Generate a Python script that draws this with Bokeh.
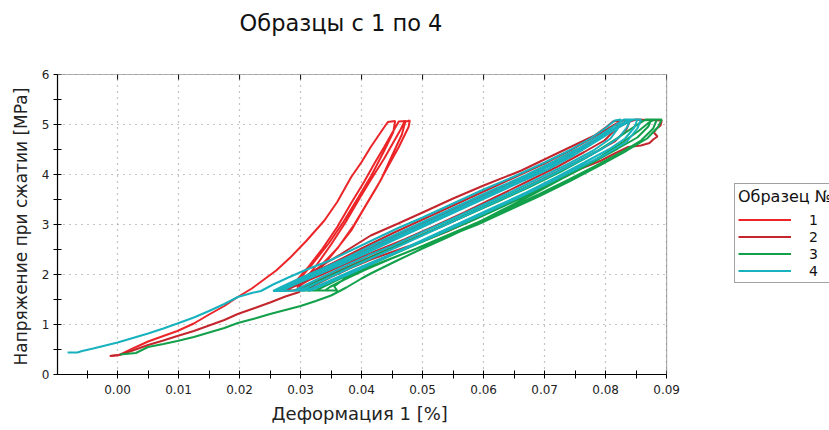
from bokeh.plotting import figure
from bokeh.models import (Range1d, FixedTicker, PrintfTickFormatter,
                          Legend, LegendItem, Title, Label, BoxAnnotation)
from bokeh.embed import file_html
from bokeh.resources import INLINE

# --- data: deformation [%] vs compressive stress [MPa], one path per specimen ---
s1_x = [-0.0013, 0.0003, 0.0025, 0.0050, 0.0075, 0.0098, 0.0125, 0.0150, 0.0175, 0.0197, 0.0220, 0.0240, 0.0260,
        0.0284, 0.0310, 0.0339, 0.0360, 0.0383, 0.0400, 0.0415, 0.0430, 0.0443, 0.0455,
        0.0452, 0.0436, 0.0416, 0.0395, 0.0370, 0.0346, 0.0320, 0.0296, 0.0280,
        0.0292, 0.0312, 0.0336, 0.0360, 0.0384, 0.0404, 0.0420, 0.0437, 0.0451, 0.0461, 0.0472,
        0.0466, 0.0450, 0.0432, 0.0410, 0.0388, 0.0362, 0.0338, 0.0312, 0.0294,
        0.0306, 0.0328, 0.0350, 0.0374, 0.0398, 0.0418, 0.0437, 0.0451, 0.0464, 0.0470, 0.0479,
        0.0477, 0.0461, 0.0446, 0.0425, 0.0403, 0.0383, 0.0360, 0.0339, 0.0320, 0.0302]
s1_y = [0.37, 0.39, 0.52, 0.66, 0.77, 0.87, 1.02, 1.20, 1.37, 1.55, 1.72, 1.90, 2.08,
        2.35, 2.68, 3.08, 3.45, 3.95, 4.25, 4.55, 4.82, 5.05, 5.07,
        4.85, 4.45, 3.98, 3.55, 3.05, 2.62, 2.22, 1.88, 1.74,
        1.86, 2.14, 2.52, 2.95, 3.45, 3.85, 4.20, 4.55, 4.85, 5.06, 5.07,
        4.80, 4.38, 3.90, 3.45, 3.00, 2.55, 2.20, 1.88, 1.74,
        1.88, 2.22, 2.60, 3.05, 3.55, 3.95, 4.32, 4.62, 4.90, 5.05, 5.08,
        4.95, 4.55, 4.22, 3.75, 3.30, 2.88, 2.52, 2.25, 2.00, 1.80]

s2_x = [-0.0012, 0.0002, 0.0025, 0.0050, 0.0075, 0.0098, 0.0125, 0.0150, 0.0175, 0.0197, 0.0225, 0.0250, 0.0275, 0.0298,
        0.0300, 0.0312, 0.0335, 0.0365, 0.0415, 0.0460, 0.0500, 0.0550, 0.0600, 0.0662, 0.0720, 0.0782, 0.0800, 0.0812, 0.0822,
        0.0816, 0.0798, 0.0765, 0.0720, 0.0670, 0.0620, 0.0570, 0.0520, 0.0470, 0.0420, 0.0375, 0.0335, 0.0300, 0.0278, 0.0265,
        0.0285, 0.0315, 0.0355, 0.0400, 0.0450, 0.0500, 0.0550, 0.0600, 0.0650, 0.0700, 0.0745, 0.0785, 0.0812, 0.0828, 0.0840,
        0.0834, 0.0815, 0.0780, 0.0735, 0.0685, 0.0635, 0.0585, 0.0535, 0.0485, 0.0435, 0.0390, 0.0350, 0.0318, 0.0295, 0.0288, 0.0275,
        0.0295, 0.0330, 0.0372, 0.0418, 0.0468, 0.0518, 0.0568, 0.0618, 0.0668, 0.0718, 0.0765, 0.0805, 0.0835, 0.0850, 0.0892,
        0.0890, 0.0884, 0.0879, 0.0885, 0.0878, 0.0872, 0.0858, 0.0837, 0.0815, 0.0793, 0.0760, 0.0725, 0.0700, 0.0662,
        0.0620, 0.0580, 0.0540, 0.0490, 0.0450, 0.0415, 0.0380, 0.0350, 0.0325, 0.0310]
s2_y = [0.37, 0.39, 0.48, 0.59, 0.68, 0.77, 0.87, 0.98, 1.09, 1.21, 1.33, 1.44, 1.56, 1.65,
        1.82, 2.00, 2.18, 2.40, 2.78, 3.02, 3.24, 3.52, 3.78, 4.08, 4.42, 4.78, 4.94, 5.06, 5.08,
        4.90, 4.68, 4.45, 4.15, 3.85, 3.55, 3.25, 2.97, 2.70, 2.45, 2.22, 2.00, 1.82, 1.70, 1.68,
        1.82, 2.00, 2.24, 2.52, 2.82, 3.10, 3.38, 3.66, 3.94, 4.22, 4.50, 4.78, 4.98, 5.08, 5.08,
        4.90, 4.66, 4.42, 4.14, 3.84, 3.54, 3.26, 2.98, 2.72, 2.46, 2.22, 2.00, 1.82, 1.70, 1.68, 1.68,
        1.84, 2.04, 2.28, 2.55, 2.84, 3.12, 3.40, 3.68, 3.96, 4.26, 4.56, 4.84, 5.04, 5.10, 5.08,
        4.98, 4.92, 4.84, 4.76, 4.70, 4.63, 4.58, 4.55, 4.42, 4.28, 4.12, 3.92, 3.78, 3.55,
        3.32, 3.08, 2.86, 2.62, 2.45, 2.30, 2.12, 1.95, 1.80, 1.70]

s3_x = [0.0004, 0.0030, 0.0050, 0.0075, 0.0098, 0.0125, 0.0150, 0.0175, 0.0197, 0.0225, 0.0250, 0.0275, 0.0300, 0.0325,
        0.0350, 0.0375, 0.0400, 0.0415, 0.0455, 0.0498, 0.0540, 0.0580, 0.0629, 0.0680, 0.0730, 0.0780, 0.0825, 0.0855,
        0.0872, 0.0880, 0.0892,
        0.0886, 0.0868, 0.0835, 0.0790, 0.0740, 0.0690, 0.0640, 0.0590, 0.0540, 0.0490, 0.0440, 0.0400, 0.0370, 0.0355,
        0.0360, 0.0300,
        0.0318, 0.0350, 0.0390, 0.0430, 0.0475, 0.0525, 0.0575, 0.0625, 0.0675, 0.0725, 0.0770, 0.0810, 0.0840, 0.0862, 0.0875,
        0.0870, 0.0852, 0.0820, 0.0780, 0.0735, 0.0685, 0.0635, 0.0585, 0.0535, 0.0485, 0.0440, 0.0400, 0.0365, 0.0338,
        0.0325, 0.0305,
        0.0325, 0.0360, 0.0400, 0.0445, 0.0490, 0.0540, 0.0590, 0.0640, 0.0690, 0.0740, 0.0785, 0.0822, 0.0850, 0.0866, 0.0884,
        0.0878, 0.0858, 0.0825, 0.0785, 0.0740, 0.0690, 0.0640, 0.0590, 0.0540, 0.0490, 0.0445, 0.0405, 0.0372, 0.0348, 0.0340]
s3_y = [0.40, 0.43, 0.55, 0.61, 0.67, 0.75, 0.84, 0.93, 1.03, 1.12, 1.21, 1.29, 1.37, 1.47,
        1.58, 1.74, 1.92, 2.02, 2.26, 2.51, 2.74, 2.97, 3.28, 3.60, 3.93, 4.27, 4.62, 4.88,
        5.05, 5.10, 5.10,
        4.95, 4.72, 4.48, 4.18, 3.86, 3.56, 3.28, 3.00, 2.76, 2.52, 2.28, 2.08, 1.90, 1.76,
        1.68, 1.68,
        1.80, 1.98, 2.20, 2.42, 2.66, 2.93, 3.20, 3.47, 3.75, 4.05, 4.35, 4.65, 4.90, 5.08, 5.10,
        4.96, 4.74, 4.52, 4.25, 3.96, 3.66, 3.38, 3.10, 2.84, 2.58, 2.34, 2.12, 1.92, 1.76,
        1.68, 1.68,
        1.82, 2.02, 2.24, 2.50, 2.74, 3.02, 3.30, 3.58, 3.86, 4.16, 4.46, 4.75, 4.98, 5.10, 5.10,
        4.92, 4.68, 4.44, 4.18, 3.90, 3.60, 3.32, 3.04, 2.78, 2.52, 2.30, 2.09, 1.90, 1.75, 1.68]

s4_x = [-0.0082, -0.0066, -0.0058, -0.0040, -0.0020, 0.0000, 0.0025, 0.0050, 0.0075, 0.0098, 0.0125, 0.0150, 0.0175,
        0.0197, 0.0220, 0.0235,
        0.0255, 0.0280, 0.0310, 0.0350, 0.0415, 0.0460, 0.0500, 0.0550, 0.0600, 0.0650, 0.0700, 0.0740, 0.0775, 0.0800,
        0.0815, 0.0825,
        0.0822, 0.0808, 0.0780, 0.0740, 0.0700, 0.0650, 0.0600, 0.0550, 0.0500, 0.0450, 0.0415, 0.0370, 0.0330, 0.0300,
        0.0290, 0.0255,
        0.0270, 0.0300, 0.0340, 0.0380, 0.0420, 0.0470, 0.0520, 0.0570, 0.0620, 0.0670, 0.0715, 0.0755, 0.0790, 0.0815,
        0.0830, 0.0840,
        0.0836, 0.0822, 0.0795, 0.0755, 0.0710, 0.0660, 0.0610, 0.0560, 0.0510, 0.0460, 0.0415, 0.0375, 0.0338, 0.0310,
        0.0298, 0.0262,
        0.0280, 0.0310, 0.0350, 0.0395, 0.0440, 0.0490, 0.0540, 0.0590, 0.0640, 0.0690, 0.0735, 0.0775, 0.0808, 0.0832,
        0.0842, 0.0852,
        0.0847, 0.0832, 0.0805, 0.0765, 0.0720, 0.0670, 0.0620, 0.0570, 0.0520, 0.0470, 0.0420, 0.0380, 0.0345, 0.0318,
        0.0305, 0.0268,
        0.0290, 0.0325, 0.0365, 0.0410, 0.0455, 0.0505, 0.0555, 0.0605, 0.0655, 0.0705, 0.0750, 0.0790, 0.0822, 0.0845,
        0.0858,
        0.0852, 0.0835, 0.0800, 0.0760, 0.0715, 0.0665, 0.0615, 0.0565, 0.0515, 0.0465, 0.0420, 0.0380, 0.0345, 0.0320,
        0.0312]
s4_y = [0.44, 0.44, 0.47, 0.52, 0.58, 0.64, 0.73, 0.82, 0.92, 1.02, 1.14, 1.27, 1.41,
        1.55, 1.63, 1.67,
        1.80, 1.94, 2.10, 2.29, 2.67, 2.93, 3.14, 3.42, 3.70, 3.96, 4.24, 4.48, 4.72, 4.93,
        5.08, 5.10,
        4.95, 4.72, 4.48, 4.22, 3.98, 3.68, 3.40, 3.12, 2.85, 2.57, 2.40, 2.15, 1.92, 1.74,
        1.68, 1.67,
        1.76, 1.93, 2.14, 2.36, 2.60, 2.88, 3.16, 3.44, 3.72, 3.99, 4.26, 4.52, 4.78, 4.98,
        5.10, 5.10,
        4.96, 4.74, 4.52, 4.26, 3.98, 3.68, 3.40, 3.12, 2.84, 2.56, 2.32, 2.10, 1.89, 1.74,
        1.68, 1.67,
        1.78, 1.94, 2.15, 2.40, 2.66, 2.94, 3.22, 3.50, 3.78, 4.06, 4.34, 4.62, 4.88, 5.06,
        5.10, 5.10,
        4.94, 4.72, 4.50, 4.24, 3.95, 3.64, 3.36, 3.08, 2.80, 2.52, 2.26, 2.05, 1.86, 1.72,
        1.68, 1.67,
        1.80, 1.98, 2.19, 2.44, 2.70, 2.98, 3.26, 3.54, 3.82, 4.10, 4.40, 4.70, 4.95, 5.10,
        5.10,
        4.92, 4.66, 4.40, 4.16, 3.88, 3.58, 3.30, 3.02, 2.75, 2.48, 2.23, 2.01, 1.83, 1.70,
        1.67]

specimen_labels = ["1", "2", "3", "4"]
specimen_colors = ["#ec2529", "#c3272d", "#12a04a", "#17b2be"]

x_ticks = [0.00, 0.01, 0.02, 0.03, 0.04, 0.05, 0.06, 0.07, 0.08, 0.09]
x_minor = [-0.005, 0.005, 0.015, 0.025, 0.035, 0.045, 0.055, 0.065, 0.075, 0.085]
y_ticks = [0, 1, 2, 3, 4, 5, 6]
y_minor = [0.5, 1.5, 2.5, 3.5, 4.5, 5.5]

# chart area spans X_MIN..X_MAX and 0..Y_MAX; the canvas continues above and to the
# right of it (title and legend live there)
X_MIN, X_MAX, Y_MAX = -0.00985, 0.09, 6
X_CANVAS, Y_CANVAS = 0.1167, 7.48

FONT = "DejaVu Sans"

p = figure(width=829, height=430, output_backend="svg", toolbar_location=None,
           x_range=Range1d(X_MIN, X_CANVAS), y_range=Range1d(0, Y_CANVAS),
           min_border_left=57, min_border_right=0, min_border_top=0, min_border_bottom=56)
p.background_fill_color = "white"
p.border_fill_color = "white"
p.outline_line_color = None

# bottom axis
xa = p.xaxis[0]
xa.ticker = FixedTicker(ticks=x_ticks, minor_ticks=x_minor)
xa.formatter = PrintfTickFormatter(format="%.2f")
xa.bounds = (X_MIN, X_MAX)
# left axis
ya = p.yaxis[0]
ya.ticker = FixedTicker(ticks=y_ticks, minor_ticks=y_minor)
ya.bounds = (0, Y_MAX)

for ax in (xa, ya):
    ax.axis_line_color = "black"
    ax.axis_line_width = 1.2
    ax.major_tick_line_color = "black"
    ax.minor_tick_line_color = "black"
    ax.major_tick_in = 4
    ax.major_tick_out = 4
    ax.minor_tick_in = 4
    ax.minor_tick_out = 4
    ax.major_label_text_font = FONT
    ax.major_label_text_font_size = "12px"
    ax.major_label_text_color = "#222222"
xa.major_label_standoff = 6
ya.major_label_standoff = 4

# axis titles, placed along the chart area rather than the whole canvas
p.add_layout(Title(text="Деформация 1 [%]", align="left", offset=214, standoff=8,
                   vertical_align="bottom", text_font=FONT, text_font_size="18px",
                   text_font_style="normal", text_color="#222222"), "below")
p.add_layout(Title(text="Напряжение при сжатии [MPa]", align="left", offset=9, standoff=16,
                   text_font=FONT, text_font_size="17px",
                   text_font_style="normal", text_color="#222222"), "left")

p.xgrid.ticker = FixedTicker(ticks=x_ticks)
p.ygrid.ticker = FixedTicker(ticks=y_ticks)
for g in (p.xgrid, p.ygrid):
    g.grid_line_color = "#8a8a8a"
    g.grid_line_dash = "1 5"
    g.grid_line_width = 1.2

series = [(s1_x, s1_y), (s2_x, s2_y), (s3_x, s3_y), (s4_x, s4_y)]
items = []
for (xs, ys), lab, col in zip(series, specimen_labels, specimen_colors):
    r = p.line(xs, ys, line_color=col, line_width=2)
    items.append(LegendItem(label=lab, renderers=[r]))

# small tick marks hanging from the top edge of the chart area
p.segment(x0=x_ticks, y0=[Y_MAX] * len(x_ticks), x1=x_ticks, y1=[Y_MAX - 0.1] * len(x_ticks),
          line_color="black", line_width=1)

# blank the canvas outside the chart area, then draw the chart frame
p.add_layout(BoxAnnotation(bottom=Y_MAX, fill_color="white", fill_alpha=1, line_color=None))
p.add_layout(BoxAnnotation(left=X_MAX, fill_color="white", fill_alpha=1, line_color=None))
p.add_layout(BoxAnnotation(left=X_MIN, right=X_MAX, bottom=0, top=Y_MAX, fill_alpha=0,
                           line_color="black", line_width=1.2))

p.add_layout(Label(x=0.0200, y=7.04, text="Образцы с 1 по 4", text_align="left",
                   text_baseline="middle", text_font=FONT, text_font_size="22.5px",
                   text_color="#111111"))

legend = Legend(items=items, location=(677, 91), title="Образец №",
                title_text_font=FONT, title_text_font_size="16px", title_text_font_style="normal",
                title_text_color="#111111", title_standoff=5,
                label_text_font=FONT, label_text_font_size="14px", label_text_color="#111111",
                glyph_width=53, glyph_height=17, label_height=17, label_standoff=18,
                spacing=0, padding=3, margin=0,
                border_line_color="#444444", border_line_width=1.5,
                background_fill_color="white", background_fill_alpha=1)
p.add_layout(legend, "center")

open("out.html", "w").write(file_html(p, INLINE))
